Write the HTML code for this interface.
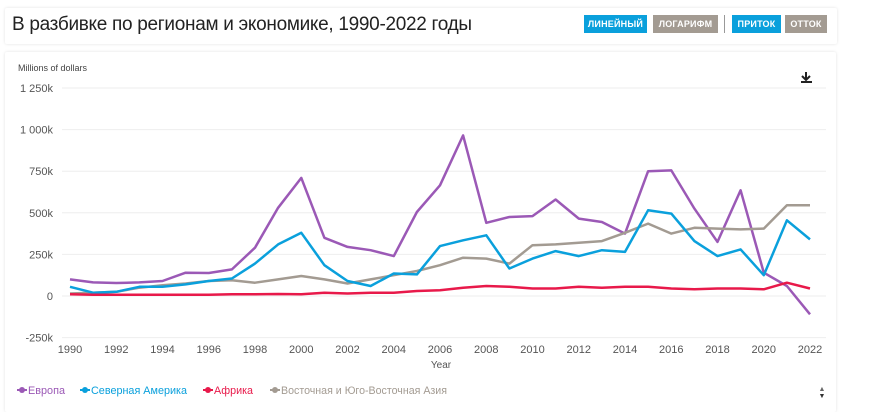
<!DOCTYPE html>
<html><head><meta charset="utf-8"><style>
body{margin:0;width:870px;height:400px;background:#fff;overflow:hidden;font-family:"Liberation Sans",sans-serif;position:relative}
.card{position:absolute;background:#fff;box-shadow:0 0 3px rgba(0,0,0,0.12);border-radius:2px}
.btn{position:absolute;top:15px;height:18px;line-height:18px;color:#fff;font-size:9px;font-weight:bold;text-align:center;letter-spacing:0.2px}
</style></head><body>
<div class="card" style="left:5px;top:8px;width:832px;height:36px"></div>
<div style="position:absolute;left:12px;top:14px;font-size:19px;color:#222;letter-spacing:-0.3px">В разбивке по регионам и экономике, 1990-2022 годы</div>
<div class="btn" style="left:584px;width:63px;background:#0aa0dc">ЛИНЕЙНЫЙ</div>
<div class="btn" style="left:653px;width:65px;background:#a39b92">ЛОГАРИФМ</div>
<div style="position:absolute;left:724px;top:15px;width:1px;height:18px;background:#999"></div>
<div class="btn" style="left:732px;width:49px;background:#0aa0dc">ПРИТОК</div>
<div class="btn" style="left:785px;width:42px;background:#a39b92">ОТТОК</div>
<div class="card" style="left:5px;top:52px;width:831px;height:360px"></div>
<svg id="s" width="870" height="400" style="position:absolute;left:0;top:0" font-family="Liberation Sans, sans-serif"></svg>
<script>
var s=document.getElementById('s'),h='';
function Y(v){return 296-v*41.6/250}
function X(y){return 70+(y-1990)*23.125}
h+='<text x="18" y="71" font-size="9" fill="#444">Millions of dollars</text>';
var t=[1250,1000,750,500,250,0,-250],lb=['1 250k','1 000k','750k','500k','250k','0','-250k'];
t.forEach(function(v,i){var y=Y(v);h+='<line x1="62" x2="826" y1="'+y+'" y2="'+y+'" stroke="#eee"/><text x="53" y="'+(y+4)+'" font-size="11" fill="#555" text-anchor="end">'+lb[i]+'</text>';});
for(var yr=1990;yr<=2022;yr+=2)h+='<text x="'+X(yr)+'" y="353" font-size="11" fill="#555" text-anchor="middle">'+yr+'</text>';
h+='<text x="441" y="368" font-size="10" fill="#555" text-anchor="middle">Year</text>';
var D=[
['#9b59b6',[100,82,78,82,90,140,138,160,290,530,710,350,295,275,240,505,665,965,440,475,480,580,465,445,375,750,755,525,325,635,140,60,-110]],
['#a39b92',[15,20,25,50,65,75,90,95,80,100,120,100,75,100,125,150,185,230,225,195,305,310,320,330,380,435,375,410,405,400,405,545,545]],
['#0aa0dc',[55,20,25,55,55,70,90,105,195,310,380,185,90,60,135,130,300,335,365,165,225,270,240,275,265,515,495,330,240,280,125,455,340]],
['#e8194a',[10,8,8,8,8,8,8,10,10,12,10,20,15,20,20,30,35,50,60,55,45,45,55,50,55,55,45,40,45,45,40,80,45]]];
D.forEach(function(d){var p=d[1].map(function(v,i){return X(1990+i).toFixed(1)+','+Y(v).toFixed(1)}).join(' ');h+='<polyline points="'+p+'" fill="none" stroke="'+d[0]+'" stroke-width="2.5" stroke-linejoin="round"/>';});
h+='<path d="M806 72v7M802 76l4 4 4-4" stroke="#222" stroke-width="2" fill="none"/><rect x="801" y="81" width="11" height="2" fill="#222"/>';
var L=[['#9b59b6','Европа',17,37],['#0aa0dc','Северная Америка',80,96],['#e8194a','Африка',203,39],['#a39b92','Восточная и Юго-Восточная Азия',270,166]];
L.forEach(function(l){h+='<line x1="'+l[2]+'" x2="'+(l[2]+10)+'" y1="390" y2="390" stroke="'+l[0]+'" stroke-width="2"/><circle cx="'+(l[2]+5)+'" cy="390" r="3" fill="'+l[0]+'"/><text x="'+(l[2]+11)+'" y="394" font-size="11" fill="'+l[0]+'" textLength="'+l[3]+'" lengthAdjust="spacingAndGlyphs">'+l[1]+'</text>';});
h+='<text x="822" y="391" font-size="7" fill="#666" text-anchor="middle">▲</text><text x="822" y="398" font-size="7" fill="#333" text-anchor="middle">▼</text>';
s.innerHTML=h;
</script>
</body></html>
